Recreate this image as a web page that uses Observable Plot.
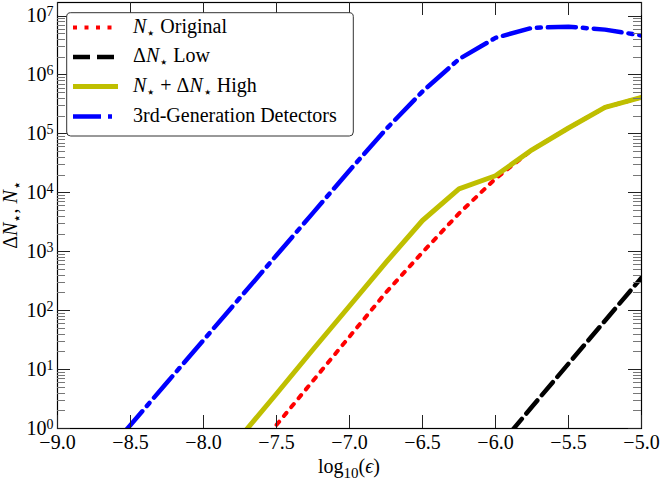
<!DOCTYPE html>
<html><head><meta charset="utf-8">
<script src="https://cdn.jsdelivr.net/npm/d3@7"></script>
<script src="https://cdn.jsdelivr.net/npm/@observablehq/plot@0.6"></script>
<style>
html,body{margin:0;padding:0;background:#fff;}
#chart{width:664px;height:481px;}
</style></head><body><div id="chart"></div>
<script>
// ---- data ----
const eps = [-9, -8.75, -8.5, -8.25, -8, -7.75, -7.5, -7.25, -7, -6.75, -6.5, -6.25, -6, -5.75, -5.5, -5.25, -5];
const nOriginal = [null, null, null, null, null, 0.204, 1.15, 6.46, 36.3, 204, 977, 4470, 1.74e4, 5.37e4, 1.26e5, 2.82e5, 4.17e5];
const dnLow     = [null, null, null, null, null, null, null, null, null, null, null, null, 0.427, 2.34, 12.6, 67.6, 363];
const nHigh     = [null, null, null, null, null, 0.708, 3.89, 21.9, 120, 661, 3390, 1.17e4, 1.95e4, 5.37e4, 1.26e5, 2.82e5, 4.17e5];
const thirdGen  = [null, 0.219, 1.15, 6.03, 31.6, 166, 871, 4570, 2.40e4, 1.20e5, 5.25e5, 1.86e6, 4.27e6, 6.31e6, 6.61e6, 5.89e6, 4.68e6];

const xTicks = [-9, -8.5, -8, -7.5, -7, -6.5, -6, -5.5, -5];
const yTicks = [1, 10, 100, 1e3, 1e4, 1e5, 1e6, 1e7];
const yMinor = yTicks.flatMap(p => [2,3,4,5,6,7,8,9].map(m => m * p)).filter(v => v < 1.7e7);

const legendLabels = [
  [{t:"N", i:true}, {t:"⋆", sub:true}, {t:" Original"}],
  [{t:"Δ"}, {t:"N", i:true}, {t:"⋆", sub:true}, {t:" Low"}],
  [{t:"N", i:true}, {t:"⋆", sub:true}, {t:" + Δ"}, {t:"N", i:true}, {t:"⋆", sub:true}, {t:" High"}],
  [{t:"3rd-Generation Detectors"}]
];

// ---- styles ----
const styles = [
  {values: nOriginal, stroke: "#ff0000", width: 4,   dash: "4,7.5"},
  {values: dnLow,     stroke: "#000000", width: 4.5, dash: "17,7"},
  {values: nHigh,     stroke: "#bfbf00", width: 5,   dash: null},
  {values: thirdGen,  stroke: "#0000ff", width: 4.5, dash: "28,7,4,7"}
];

const rows = vals => eps.map((x, i) => ({x, y: vals[i]})).filter(d => d.y != null);

const W = 664, H = 481, ML = 57, MR = 23, MT = 2, MB = 53;

const plot = Plot.plot({
  width: W, height: H,
  marginLeft: ML, marginRight: MR, marginTop: MT, marginBottom: MB,
  style: {fontFamily: "'Liberation Serif', 'DejaVu Serif', serif", fontSize: "20px", background: "#fff"},
  x: {domain: [-9, -5], label: null},
  y: {type: "log", domain: [1, 1.7e7], label: null},
  marks: [
    ...styles.map(s => Plot.line(rows(s.values), {x: "x", y: "y", stroke: s.stroke, strokeWidth: s.width, strokeDasharray: s.dash, clip: true})),
    Plot.axisX(xTicks, {anchor: "bottom", tickSize: 0, tickPadding: 6, tickFormat: d3.format(".1f"), fontSize: 20, label: null}),
    Plot.axisY(yTicks, {anchor: "left", tickSize: 0, tickPadding: 4, tickFormat: d => String(Math.round(Math.log10(d))), fontSize: 20, label: null}),
    Plot.frame({stroke: "#000", strokeWidth: 1.2})
  ]
});
document.getElementById("chart").appendChild(plot);

const svg = d3.select(plot);
const sx = plot.scale("x"), sy = plot.scale("y");
const x0 = ML, x1 = W - MR, y0 = MT, y1 = H - MB;

// inward ticks on all four sides, positioned with Plot's own scales
const tg = svg.append("g").attr("fill", "none").attr("stroke-width", 1);
function yTick(v, len, color) {
  const y = Math.round(sy.apply(v)) + 0.5;
  tg.append("line").attr("x1", x0).attr("x2", x0 + len).attr("y1", y).attr("y2", y).attr("stroke", color);
  tg.append("line").attr("x1", x1).attr("x2", x1 - len).attr("y1", y).attr("y2", y).attr("stroke", color);
}
function xTick(v, len, color) {
  const x = Math.round(sx.apply(v)) + 0.5;
  tg.append("line").attr("x1", x).attr("x2", x).attr("y1", y1).attr("y2", y1 - len).attr("stroke", color);
  tg.append("line").attr("x1", x).attr("x2", x).attr("y1", y0).attr("y2", y0 + len).attr("stroke", color);
}
yMinor.forEach(v => yTick(v, 8, "#777"));
yTicks.forEach(v => yTick(v, 13, "#222"));
xTicks.forEach(v => xTick(v, 13, "#222"));

// y tick labels as 10^k
svg.selectAll('g[aria-label="y-axis tick label"] text').each(function() {
  const k = this.textContent;
  if (!k) return;
  const t = d3.select(this);
  t.text(null);
  t.append("tspan").text("10");
  t.append("tspan").attr("dy", "-0.45em").attr("font-size", 14).text(k);
});

function rich(sel, parts, size) {
  let shift = 0;
  for (const p of parts) {
    const target = p.sub ? size * 0.25 : p.sup ? -size * 0.45 : 0;
    const ts = sel.append("tspan").text(p.t);
    if (target !== shift) { ts.attr("dy", target - shift); shift = target; }
    if (p.i) ts.attr("font-style", "italic");
    if (p.sub || p.sup) ts.attr("font-size", size * 0.75);
  }
}

// axis labels
const xl = svg.append("text").attr("x", (x0 + x1) / 2).attr("y", 473)
  .attr("text-anchor", "middle").attr("font-size", 20);
rich(xl, [{t:"log"}, {t:"10", sub:true}, {t:"("}, {t:"ϵ", i:true}, {t:")"}], 20);

const yl = svg.append("text").attr("transform", `translate(17,${(y0 + y1) / 2}) rotate(-90)`)
  .attr("text-anchor", "middle").attr("font-size", 20);
rich(yl, [{t:"Δ"}, {t:"N", i:true}, {t:"⋆", sub:true}, {t:", "}, {t:"N", i:true}, {t:"⋆", sub:true}], 20);

// legend
const lg = svg.append("g");
lg.append("rect").attr("x", 66.7).attr("y", 12.7).attr("width", 286.6).attr("height", 123.3)
  .attr("rx", 4).attr("fill", "#fff").attr("stroke", "#333").attr("stroke-width", 1);
const baselines = [32.5, 62, 91.5, 121.5];
styles.forEach((s, i) => {
  const yb = baselines[i];
  lg.append("line").attr("x1", 73).attr("x2", 118).attr("y1", yb - 5).attr("y2", yb - 5)
    .attr("stroke", s.stroke).attr("stroke-width", s.width).attr("stroke-dasharray", s.dash);
  const t = lg.append("text").attr("x", 133).attr("y", yb).attr("font-size", 20).attr("text-anchor", "start");
  rich(t, legendLabels[i], 20);
});
</script></body></html>
